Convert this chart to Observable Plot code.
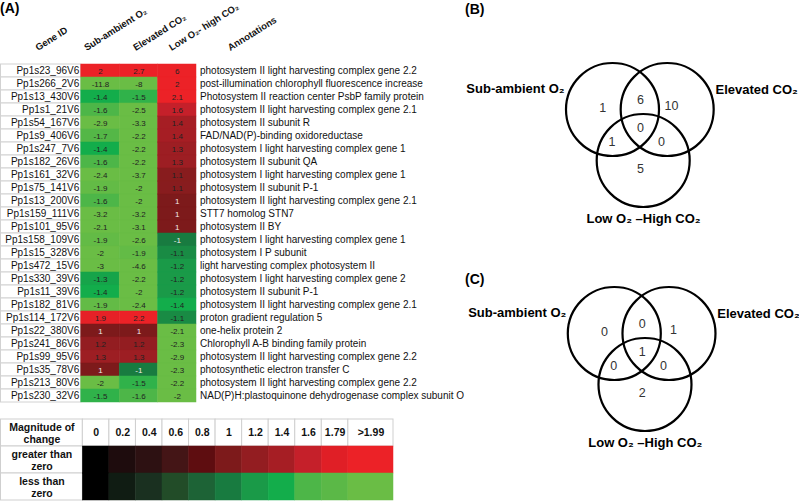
<!DOCTYPE html>
<html><head><meta charset="utf-8">
<script src="https://cdn.jsdelivr.net/npm/d3@7"></script>
<script src="https://cdn.jsdelivr.net/npm/@observablehq/plot@0.6"></script>
<style>
body{margin:0;background:#fff;}
#fig{position:relative;width:799px;height:503px;font-family:"Liberation Sans",Arial,sans-serif;overflow:hidden;background:#fff}
.part{position:absolute}
.panel{position:absolute;font-weight:bold;font-size:14px;color:#000;line-height:1}
</style></head><body><div id="fig"></div>
<script>
// ---------- data ----------
const genes = ["Pp1s23_96V6","Pp1s266_2V6","Pp1s13_430V6","Pp1s1_21V6","Pp1s54_167V6","Pp1s9_406V6","Pp1s247_7V6","Pp1s182_26V6","Pp1s161_32V6","Pp1s75_141V6","Pp1s13_200V6","Pp1s159_111V6","Pp1s101_95V6","Pp1s158_109V6","Pp1s15_328V6","Pp1s472_15V6","Pp1s330_39V6","Pp1s11_39V6","Pp1s182_81V6","Pp1s114_172V6","Pp1s22_380V6","Pp1s241_86V6","Pp1s99_95V6","Pp1s35_78V6","Pp1s213_80V6","Pp1s230_32V6"];
const annotations = ["photosystem II light harvesting complex gene 2.2","post-illumination chlorophyll fluorescence increase","Photosystem II reaction center PsbP family protein","photosystem II light harvesting complex gene 2.1","photosystem II subunit R","FAD/NAD(P)-binding oxidoreductase","photosystem I light harvesting complex gene 1","photosystem II subunit QA","photosystem I light harvesting complex gene 1","photosystem II subunit P-1","photosystem II light harvesting complex gene 2.1","STT7 homolog STN7","photosystem II BY","photosystem I light harvesting complex gene 1","photosystem I P subunit","light harvesting complex photosystem II","photosystem I light harvesting complex gene 2","photosystem II subunit P-1","photosystem II light harvesting complex gene 2.1","proton gradient regulation 5","one-helix protein 2","Chlorophyll A-B binding family protein","photosystem II light harvesting complex gene 2.2","photosynthetic electron transfer C","photosystem II light harvesting complex gene 2.2","NAD(P)H:plastoquinone dehydrogenase complex subunit O"];
const subAmbientO2 = [2,-11.8,-1.4,-1.6,-2.9,-1.7,-1.4,-1.6,-2.4,-1.9,-1.6,-3.2,-2.1,-1.9,-2,-3,-1.3,-1.4,-1.9,1.9,1,1.2,1.3,1,-2,-1.5];
const elevatedCO2 = [2.7,-8,-1.5,-2.5,-3.3,-2.2,-2.2,-2.2,-3.7,-2,-2,-3.2,-3.1,-2.6,-1.9,-4.6,-2.2,-2,-2.4,2.2,1,1.2,1.3,-1,-1.5,-1.6];
const lowO2HighCO2 = [6,2,2.1,1.6,1.4,1.4,1.3,1.3,1.1,1.1,1,1,1,-1,-1.1,-1.2,-1.2,-1.2,-1.4,-1.1,-2.1,-2.3,-2.9,-2.3,-2.2,-2];
const conditions = ["Sub-ambient O₂","Elevated CO₂","Low O₂- high CO₂"];
const headerLabels = ["Gene ID", ...conditions, "Annotations"];

const legendRows = ["Magnitude of\nchange","greater than\nzero","less than\nzero"];
const legendLabels = ["0","0.2","0.4","0.6","0.8","1","1.2","1.4","1.6","1.79",">1.99"];
const legendValues = [0,0.2,0.4,0.6,0.8,1,1.2,1.4,1.6,1.79,2];
const greenColors = ["#000000","#101c13","#1a3020","#224c28","#1d6336","#187b40","#1a9a48","#13ad4b","#4db648","#5bb847","#6abd45"];
const redColors   = ["#000000","#1e0c0d","#2d1112","#441516","#5e0d10","#7d1a1b","#931d21","#a61e24","#c5202a","#e01f26","#ec2227"];

const vennSets = ["Sub-ambient O₂","Elevated CO₂","Low O₂ –High CO₂"];
const vennRegions = ["S","S∩E","E","S∩E∩L","S∩L","E∩L","L"];
const countsB = [1,6,10,0,1,0,5];
const countsC = [0,0,1,1,0,0,2];

// ---------- layout ----------
const colorOpts = {
  type: "linear",
  domain: [...legendValues.slice().reverse().map(v => -v), ...legendValues.slice(1)],
  range: [...greenColors.slice().reverse(), ...redColors.slice(1)],
  clamp: true, interpolate: "rgb"
};
const baseStyle = {fontFamily: "'Liberation Sans', Arial, sans-serif", fontSize: "10px", background: "transparent", overflow: "visible"};
const fig = document.getElementById("fig");
function place(node, left, top) {
  const d = document.createElement("div"); d.className = "part";
  d.style.left = left + "px"; d.style.top = top + "px";
  d.appendChild(node); fig.appendChild(d);
}
function panel(txt, left, top) {
  const d = document.createElement("div"); d.className = "panel";
  d.style.left = left + "px"; d.style.top = top + "px"; d.textContent = txt; fig.appendChild(d);
}

// ---------- heat map (A) ----------
const gw = 80.5 / 38.5; // gene-ID column width in column units
const headerX = [-1.13, 0.14, 1.42, 2.35, 3.88];
const heatCells = genes.flatMap((g, i) =>
  [subAmbientO2[i], elevatedCO2[i], lowO2HighCO2[i]].map((v, j) => ({gene: g, col: j, value: v})));

const heat = Plot.plot({
  width: 480, height: 410,
  marginLeft: 0.5, marginRight: 284, marginTop: 61.5, marginBottom: 6.3,
  x: {domain: [-gw, 3], axis: null},
  y: {type: "band", domain: genes, padding: 0, axis: null},
  color: colorOpts,
  style: baseStyle,
  marks: [
    Plot.barX(genes, {y: d => d, x1: () => -gw, x2: () => 0, fill: "white", stroke: "#d2d2d2", strokeWidth: 1}),
    Plot.barX(heatCells, {y: "gene", x1: "col", x2: d => d.col + 1, fill: "value", stroke: "value", strokeWidth: 0.5}),
    Plot.text(heatCells, {filter: d => Math.abs(d.value) > 1, x: d => d.col + 0.5, y: "gene", text: d => String(d.value), fill: "#222", fontSize: 8}),
    Plot.text(heatCells, {filter: d => Math.abs(d.value) <= 1, x: d => d.col + 0.5, y: "gene", text: d => String(d.value), fill: "#f3eaea", fontSize: 8}),
    Plot.text(genes, {y: d => d, x: () => 0, dx: -2, text: d => d, textAnchor: "end", fontSize: 10, fill: "#111"}),
    Plot.text(annotations, {y: (d, i) => genes[i], x: () => 3, dx: 3.5, text: d => d, textAnchor: "start", fontSize: 10, fill: "#111"}),
    Plot.text(headerLabels, {x: (d, i) => headerX[i], text: d => d, frameAnchor: "top", dy: -11, rotate: -32,
      textAnchor: "start", lineAnchor: "bottom", fontWeight: "bold", fontSize: 9.5, fill: "#111"})
  ]
});
place(heat, 0, 0);

// ---------- colour legend table ----------
const lw = 82 / 26.6;
const last = legendLabels.length - 1;
const lx1 = (d, i) => i;
const lx2 = (d, i) => i === last ? 11.7 : i + 1;
const legend = Plot.plot({
  width: 400, height: 93,
  marginLeft: 0.5, marginRight: 7, marginTop: 8, marginBottom: 2,
  x: {domain: [-lw, 11.7], axis: null},
  y: {type: "band", domain: legendRows, padding: 0, axis: null},
  color: colorOpts,
  style: baseStyle,
  marks: [
    Plot.barX(legendRows, {y: d => d, x1: () => -lw, x2: () => 0, fill: "white", stroke: "#cfcfcf"}),
    Plot.barX(legendLabels, {y: () => legendRows[0], x1: lx1, x2: lx2, fill: "white", stroke: "#cfcfcf"}),
    Plot.barX(legendValues, {y: () => legendRows[1], x1: lx1, x2: lx2, fill: d => d, stroke: d => d, strokeWidth: 0.5}),
    Plot.barX(legendValues, {y: () => legendRows[2], x1: lx1, x2: lx2, fill: d => -d, stroke: d => -d, strokeWidth: 0.5}),
    Plot.text(legendRows, {y: d => d, x: () => -lw / 2, text: d => d, fontWeight: "bold", fontSize: 10.5, lineHeight: 1.2, fill: "#111"}),
    Plot.text(legendLabels, {y: () => legendRows[0], x: (d, i) => (lx1(d, i) + lx2(d, i)) / 2, text: d => d, fontWeight: "bold", fontSize: 10.5, fill: "#111"})
  ]
});
place(legend, 0, 410);

// ---------- Venn diagrams (B) and (C) ----------
const unit = 46.5;                         // circle radius in px
const setCx = [0, 1.176, 0.66], setCy = [0, 0, 1.097];
const regionX = [-0.21, 0.60, 1.27, 0.60, -0.01, 1.055, 0.60];
const regionY = [-0.03, -0.20, -0.07, 0.40, 0.69, 0.69, 1.29];
const labelX = [-1.03, 2.215, 0.667], labelY = [-0.45, -0.43, 2.35];

function venn(counts, cxPx, cyPx, w, h) {
  return Plot.plot({
    width: w, height: h, margin: 0,
    x: {domain: [-cxPx / unit, (w - cxPx) / unit], range: [0, w], axis: null},
    y: {domain: [-cyPx / unit, (h - cyPx) / unit], range: [0, h], axis: null},
    style: baseStyle,
    marks: [
      Plot.dot(vennSets, {x: (d, i) => setCx[i], y: (d, i) => setCy[i], r: unit, stroke: "#000", strokeWidth: 2.2, fill: "none"}),
      Plot.text(counts, {x: (d, i) => regionX[i], y: (d, i) => regionY[i], text: d => String(d), fontSize: 12.5, fill: "#333"}),
      Plot.text([vennSets[0]], {x: () => labelX[0], y: () => labelY[0], text: d => d, textAnchor: "end", fontWeight: "bold", fontSize: 13, fill: "#000"}),
      Plot.text([vennSets[1]], {x: () => labelX[1], y: () => labelY[1], text: d => d, textAnchor: "start", fontWeight: "bold", fontSize: 13, fill: "#000"}),
      Plot.text([vennSets[2]], {x: () => labelX[2], y: () => labelY[2], text: d => d, textAnchor: "middle", fontWeight: "bold", fontSize: 13, fill: "#000"})
    ]
  });
}
place(venn(countsB, 132, 109, 319, 251), 480, 0);
place(venn(countsC, 133.8, 82, 319, 252), 480, 251);

panel("(A)", 0, 1);
panel("(B)", 465, 2);
panel("(C)", 465, 272);
</script></body></html>
